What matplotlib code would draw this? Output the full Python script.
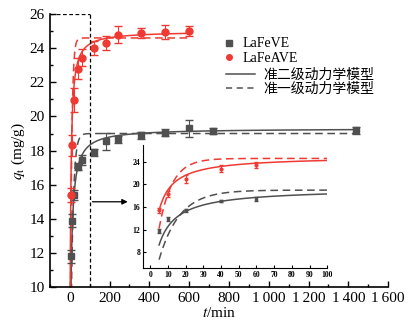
import numpy as np
import matplotlib
matplotlib.use("Agg")
import matplotlib.pyplot as plt
from matplotlib.ticker import MultipleLocator, FuncFormatter
from matplotlib.lines import Line2D

plt.rcParams['font.family'] = ['Liberation Serif', 'Noto Sans CJK SC']
plt.rcParams['mathtext.fontset'] = 'stix'

# measured data (t in min, q in mg/g)
t_data = [5, 10, 20, 40, 60, 120, 180, 240, 360, 480, 600, 720, 1440]
q_ve = [11.8, 13.9, 15.4, 17.05, 17.45, 17.9, 18.55, 18.65, 18.9, 19.05, 19.3, 19.15, 19.2]
err_ve = [0.4, 0.4, 0.3, 0.2, 0.3, 0.2, 0.5, 0.2, 0.2, 0.2, 0.5, 0.2, 0.2]
t_ave = [5, 10, 20, 40, 60, 120, 180, 240, 360, 480, 600]
q_ave = [15.4, 18.3, 20.95, 22.8, 23.45, 24.0, 24.3, 24.8, 24.9, 24.95, 25.0]
err_ave = [0.4, 0.6, 0.7, 0.6, 0.5, 0.4, 0.4, 0.5, 0.3, 0.4, 0.3]

# kinetic model parameters
qe2_ve, k2_ve = 19.3, 0.00964     # pseudo-second-order
qe1_ve, k1_ve = 19.0, 0.087       # pseudo-first-order
qe2_ave, k2_ave = 25.0, 0.0128
qe1_ave, k1_ave = 24.6, 0.137

labels = ['LaFeVE', 'LaFeAVE', '准二级动力学模型', '准一级动力学模型']
gray = '#505050'
red = '#EE3A33'


def pso(t, qe, k):
    return qe * qe * k * t / (1 + qe * k * t)


def pfo(t, qe, k):
    return qe * (1 - np.exp(-k * t))


fig = plt.figure(figsize=(4.09, 3.27), dpi=100)
ax = fig.add_axes([0.122, 0.122, 0.827, 0.835])

t_fit = np.linspace(0.01, 1440, 3000)
t_fit_a = np.linspace(0.01, 600, 2000)

ax.plot(t_fit, pso(t_fit, qe2_ve, k2_ve), color=gray, lw=1.1)
ax.plot(t_fit, pfo(t_fit, qe1_ve, k1_ve), color=gray, lw=1.1, ls=(0, (5, 3)))
ax.plot(t_fit_a, pso(t_fit_a, qe2_ave, k2_ave), color=red, lw=1.1)
ax.plot(t_fit_a, pfo(t_fit_a, qe1_ave, k1_ave), color=red, lw=1.1, ls=(0, (5, 3)))
ax.errorbar(t_data, q_ve, yerr=err_ve, fmt='s', color=gray, ms=5, capsize=3, elinewidth=0.8)
ax.errorbar(t_ave, q_ave, yerr=err_ave, fmt='o', color=red, ms=5, capsize=3, elinewidth=0.8)

# zoom box and arrow
ax.plot([-100, 100], [26, 26], color='black', lw=0.9, ls=(0, (3, 2)))
ax.plot([100, 100], [10, 26], color='black', lw=0.9, ls=(0, (3, 2)))
ax.annotate('', xy=(305, 15), xytext=(100, 15),
            arrowprops=dict(arrowstyle='-|>', color='black', lw=0.9, mutation_scale=8))

ax.set_xlim(-100, 1600)
ax.set_ylim(10, 26)
ax.xaxis.set_major_locator(MultipleLocator(200))
ax.xaxis.set_minor_locator(MultipleLocator(100))
ax.yaxis.set_major_locator(MultipleLocator(2))
ax.yaxis.set_minor_locator(MultipleLocator(1))
ax.xaxis.set_major_formatter(FuncFormatter(lambda v, p: f'{int(v):,}'.replace(',', '\u2009')))
ax.tick_params(direction='in', which='both', labelsize=11, width=1)
ax.tick_params(which='major', length=4)
ax.tick_params(which='minor', length=2)
for s in ['top', 'right']:
    ax.spines[s].set_visible(False)
for s in ['left', 'bottom']:
    ax.spines[s].set_linewidth(1.2)
ax.set_xlabel('$t$/min', fontsize=11, labelpad=1)
ax.set_ylabel('$q_\\mathrm{t}$ (mg/g)', fontsize=11, labelpad=2)

# legend: markers and model lines are offset differently in the original
mk_handles = [
    Line2D([], [], color=gray, marker='s', ls='none', ms=4),
    Line2D([], [], color=red, marker='o', ls='none', ms=4),
]
ln_handles = [
    Line2D([], [], color=gray, lw=1.1),
    Line2D([], [], color=gray, lw=1.1, ls=(0, (4, 3))),
]
leg1 = ax.legend(mk_handles, labels[:2], loc='upper left', bbox_to_anchor=(0.471, 0.96),
                 frameon=False, fontsize=10, handlelength=1.0, handletextpad=0.5,
                 labelspacing=0.1)
ax.add_artist(leg1)
ax.legend(ln_handles, labels[2:], loc='upper left', bbox_to_anchor=(0.483, 0.847),
          frameon=False, fontsize=10, handlelength=2.1, handletextpad=0.58,
          labelspacing=0.1)

# inset
ins = fig.add_axes([0.35, 0.18, 0.45, 0.377])
t_in = np.linspace(5, 100, 400)
ins.plot(t_in, pso(t_in, qe2_ve, k2_ve), color=gray, lw=1.1)
ins.plot(t_in, pfo(t_in, qe1_ve, k1_ve), color=gray, lw=1.1, ls=(0, (5, 3)))
ins.plot(t_in, pso(t_in, qe2_ave, k2_ave), color=red, lw=1.1)
ins.plot(t_in, pfo(t_in, qe1_ave, k1_ave), color=red, lw=1.1, ls=(0, (5, 3)))
ins.errorbar(t_data[:5], q_ve[:5], yerr=err_ve[:5], fmt='s', color=gray, ms=2, capsize=1.5, elinewidth=0.7)
ins.errorbar(t_ave[:5], q_ave[:5], yerr=err_ave[:5], fmt='o', color=red, ms=2, capsize=1.5, elinewidth=0.7)
ins.set_xlim(-4, 100)
ins.set_ylim(5.2, 27)
ins.xaxis.set_major_locator(MultipleLocator(10))
ins.set_yticks([8, 12, 16, 20, 24])
ins.tick_params(direction='in', labelsize=5.5, length=2.5, width=0.8, pad=2)
for lab in ins.get_xticklabels() + ins.get_yticklabels():
    lab.set_fontweight('bold')
for s in ['top', 'right']:
    ins.spines[s].set_visible(False)
ins.patch.set_alpha(0)

fig.savefig('out.png', dpi=100)
